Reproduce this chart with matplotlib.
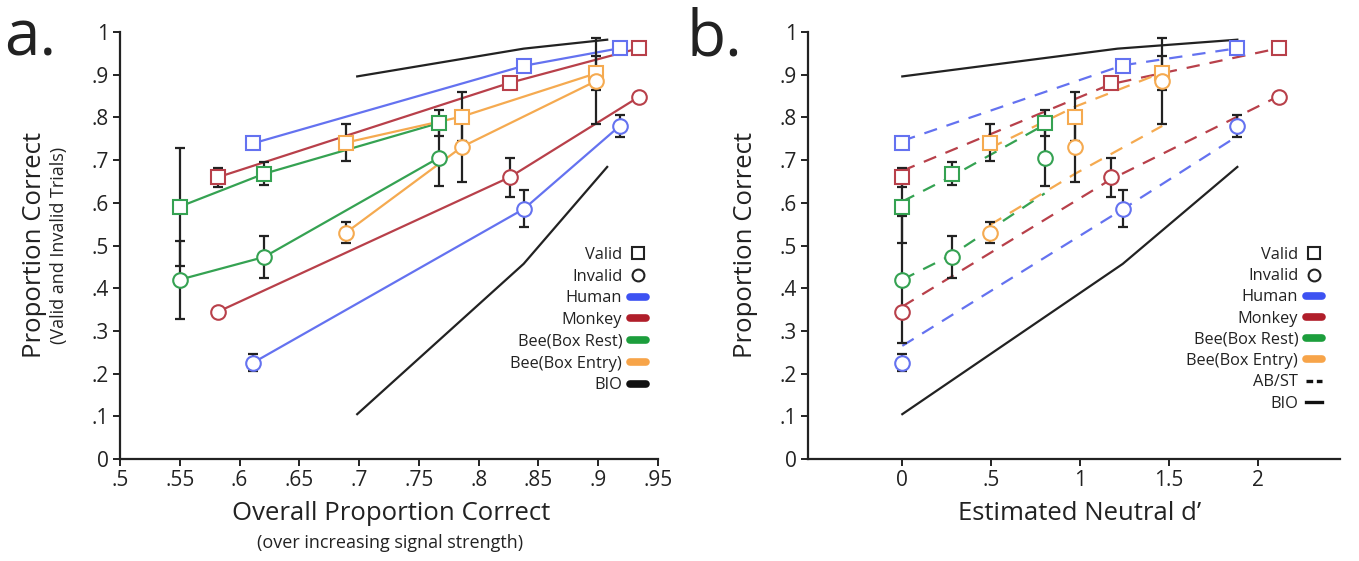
import matplotlib
matplotlib.use("Agg")
import matplotlib.pyplot as plt
from matplotlib.lines import Line2D

plt.rcParams['font.family'] = ['Open Sans', 'DejaVu Sans']

# ---------------- data ----------------
# panel a x: overall proportion correct
human_xa = [0.611, 0.838, 0.918]
monkey_xa = [0.582, 0.826, 0.934]
rest_xa = [0.550, 0.6205, 0.767]
entry_xa = [0.689, 0.786, 0.898]

# panel b x: estimated neutral d'
human_xb = [0.0, 1.239, 1.883]
monkey_xb = [0.0, 1.173, 2.117]
rest_xb = [0.0, 0.278, 0.800]
entry_xb = [0.492, 0.971, 1.461]

# proportion correct
human_valid = [0.739, 0.921, 0.962]
human_invalid = [0.225, 0.586, 0.780]
monkey_valid = [0.660, 0.881, 0.962]
monkey_invalid = [0.345, 0.660, 0.848]
rest_valid = [0.591, 0.668, 0.787]
rest_invalid = [0.420, 0.473, 0.706]
entry_valid = [0.741, 0.802, 0.903]
entry_invalid = [0.530, 0.731, 0.885]

# error bars (half widths)
human_valid_err = [0.0, 0.008, 0.0]
human_invalid_err = [0.020, 0.043, 0.025]
monkey_valid_err = [0.022, 0.0, 0.0]
monkey_invalid_err = [0.0, 0.046, 0.008]
rest_valid_err_a = [0.138, 0.027, 0.031]
rest_invalid_err_a = [0.091, 0.049, 0.067]
rest_valid_err_b = [0.085, 0.027, 0.031]
rest_invalid_err_b = [0.148, 0.049, 0.067]
entry_valid_err = [0.044, 0.057, 0.040]
entry_invalid_err = [0.024, 0.083, 0.100]

# AB/ST model fits (panel b)
human_fit_valid = [0.745, 0.922, 0.962]
human_fit_invalid = [0.265, 0.585, 0.756]
monkey_fit_valid = [0.675, 0.878, 0.962]
monkey_fit_invalid = [0.357, 0.655, 0.850]
rest_fit_valid = [0.603, 0.662, 0.783]
rest_fit_invalid = [0.420, 0.478, 0.622]
entry_fit_valid = [0.728, 0.825, 0.905]
entry_fit_invalid = [0.548, 0.668, 0.780]

# BIO (ideal observer)
bio_xa = [0.6984, 0.8376, 0.9075]
bio_xb = [0.0, 1.21, 1.883]
bio_xb_low = [0.0, 1.239, 1.883]
bio_valid = [0.896, 0.961, 0.982]
bio_invalid = [0.105, 0.457, 0.684]

xticks_a = [0.5, 0.55, 0.6, 0.65, 0.7, 0.75, 0.8, 0.85, 0.9, 0.95]
xticklabels_a = ['.5', '.55', '.6', '.65', '.7', '.75', '.8', '.85', '.9', '.95']
xticks_b = [0, 0.5, 1, 1.5, 2]
xticklabels_b = ['0', '.5', '1', '1.5', '2']
yticks = [0, 0.1, 0.2, 0.3, 0.4, 0.5, 0.6, 0.7, 0.8, 0.9, 1.0]
yticklabels = ['0', '.1', '.2', '.3', '.4', '.5', '.6', '.7', '.8', '.9', '1']

species = ['Human', 'Monkey', 'Bee(Box Rest)', 'Bee(Box Entry)']
line_colors = ['#6472f0', '#b8404a', '#35a252', '#f5aa50']
chip_colors = ['#3d52f2', '#b01e2a', '#1c9e3c', '#f7a449']

W, H = 1359, 561
fig = plt.figure(figsize=(W / 100, H / 100), dpi=100)

def px_axes(left, right, top, bottom):
    return fig.add_axes([left / W, 1 - bottom / H, (right - left) / W, (bottom - top) / H])

ax_a = px_axes(120, 658, 32, 459)
ax_b = px_axes(808, 1340, 32, 459)

def style(ax):
    for s in ['top', 'right']:
        ax.spines[s].set_visible(False)
    for s in ['left', 'bottom']:
        ax.spines[s].set_linewidth(1.6)
        ax.spines[s].set_color('#222222')
    ax.tick_params(direction='out', length=5, width=1.4, labelsize=15, colors='#222222', pad=3)
    ax.set_ylim(0, 1)
    ax.set_yticks(yticks)
    ax.set_yticklabels(yticklabels)

style(ax_a)
style(ax_b)
ax_a.set_xlim(0.5, 0.95)
ax_a.set_xticks(xticks_a)
ax_a.set_xticklabels(xticklabels_a)
ax_b.set_xlim(-0.53, 2.46)
ax_b.set_xticks(xticks_b)
ax_b.set_xticklabels(xticklabels_b)

xa_all = [human_xa, monkey_xa, rest_xa, entry_xa]
xb_all = [human_xb, monkey_xb, rest_xb, entry_xb]
valid_all = [human_valid, monkey_valid, rest_valid, entry_valid]
invalid_all = [human_invalid, monkey_invalid, rest_invalid, entry_invalid]
verr_a = [human_valid_err, monkey_valid_err, rest_valid_err_a, entry_valid_err]
ierr_a = [human_invalid_err, monkey_invalid_err, rest_invalid_err_a, entry_invalid_err]
verr_b = [human_valid_err, monkey_valid_err, rest_valid_err_b, entry_valid_err]
ierr_b = [human_invalid_err, monkey_invalid_err, rest_invalid_err_b, entry_invalid_err]
fitv_all = [human_fit_valid, monkey_fit_valid, rest_fit_valid, entry_fit_valid]
fiti_all = [human_fit_invalid, monkey_fit_invalid, rest_fit_invalid, entry_fit_invalid]

ms = 9.5
mew = 1.5
eb_kw = dict(fmt='none', ecolor='#222222', elinewidth=1.6, capsize=3.5, capthick=1.6, zorder=3)

# ---- panel a ----
ax_a.plot(bio_xa, bio_valid, color='#222222', lw=1.6, zorder=2)
ax_a.plot(bio_xa, bio_invalid, color='#222222', lw=1.6, zorder=2)
for i in range(4):
    c = line_colors[i]
    ax_a.plot(xa_all[i], valid_all[i], color=c, lw=1.6, zorder=2)
    ax_a.plot(xa_all[i], invalid_all[i], color=c, lw=1.6, zorder=2)
    ax_a.errorbar(xa_all[i], valid_all[i], yerr=verr_a[i], **eb_kw)
    ax_a.errorbar(xa_all[i], invalid_all[i], yerr=ierr_a[i], **eb_kw)
    ax_a.plot(xa_all[i], valid_all[i], ls='none', marker='s', ms=ms, mfc='white', mec=c, mew=mew, zorder=4)
    ax_a.plot(xa_all[i], invalid_all[i], ls='none', marker='o', ms=ms + 1, mfc='white', mec=c, mew=mew, zorder=4)

# ---- panel b ----
ax_b.plot(bio_xb, bio_valid, color='#222222', lw=1.6, zorder=2)
ax_b.plot(bio_xb_low, bio_invalid, color='#222222', lw=1.6, zorder=2)
for i in range(4):
    c = line_colors[i]
    ax_b.plot(xb_all[i], fitv_all[i], color=c, lw=1.6, ls=(0, (6, 4.5)), zorder=2)
    ax_b.plot(xb_all[i], fiti_all[i], color=c, lw=1.6, ls=(0, (6, 4.5)), zorder=2)
    ax_b.errorbar(xb_all[i], valid_all[i], yerr=verr_b[i], **eb_kw)
    ax_b.errorbar(xb_all[i], invalid_all[i], yerr=ierr_b[i], **eb_kw)
    ax_b.plot(xb_all[i], valid_all[i], ls='none', marker='s', ms=ms, mfc='white', mec=c, mew=mew, zorder=4)
    ax_b.plot(xb_all[i], invalid_all[i], ls='none', marker='o', ms=ms + 1, mfc='white', mec=c, mew=mew, zorder=4)

# ---- legends ----
def legend_handles(panel_b):
    hs = [Line2D([], [], ls='none', marker='s', ms=8.5, mfc='white', mec='#222222', mew=1.5),
          Line2D([], [], ls='none', marker='o', ms=8.5, mfc='white', mec='#222222', mew=1.5)]
    labels = ['Valid', 'Invalid']
    for c, s in zip(chip_colors, species):
        hs.append(Line2D([], [], color=c, lw=5.5, solid_capstyle='round'))
        labels.append(s)
    if panel_b:
        hs.append(Line2D([], [], color='#111111', lw=2.4, ls=(0, (2.0, 1.1))))
        labels.append('AB/ST')
        hs.append(Line2D([], [], color='#111111', lw=2.4))
        labels.append('BIO')
    else:
        hs.append(Line2D([], [], color='#111111', lw=5.5, solid_capstyle='round'))
        labels.append('BIO')
    return hs, labels

for ax, pb, xr, sp in [(ax_a, False, 646, 0.35), (ax_b, True, 1322, 0.32)]:
    hs, labels = legend_handles(pb)
    leg = ax.legend(hs, labels, loc='upper right', bbox_to_anchor=(xr / W, 1 - 247 / H),
                    bbox_transform=fig.transFigure, frameon=False, markerfirst=False,
                    handlelength=0.95, handletextpad=0.5, labelspacing=sp,
                    fontsize=11.8, borderpad=0, borderaxespad=0)
    for t in leg.get_texts():
        t.set_color('#222222')

# ---- labels ----
fig.text(4 / W, 1 - 56 / H, 'a.', fontsize=46, va='baseline', ha='left', color='#222222')
fig.text(686 / W, 1 - 56 / H, 'b.', fontsize=46, va='baseline', ha='left', color='#222222')

fig.text(35 / W, 1 - 245 / H, 'Proportion Correct', rotation=90, fontsize=18.5,
         ha='center', va='center', color='#222222')
fig.text(59 / W, 1 - 245 / H, '(Valid and Invalid Trials)', rotation=90, fontsize=13,
         ha='center', va='center', color='#222222')
fig.text(746 / W, 1 - 245 / H, 'Proportion Correct', rotation=90, fontsize=18.5,
         ha='center', va='center', color='#222222')

fig.text(391 / W, 1 - 514 / H, 'Overall Proportion Correct', fontsize=18.5,
         ha='center', va='center', color='#222222')
fig.text(390 / W, 1 - 543 / H, '(over increasing signal strength)', fontsize=13,
         ha='center', va='center', color='#222222')
fig.text(1080 / W, 1 - 514 / H, 'Estimated Neutral d\u2019', fontsize=18.5,
         ha='center', va='center', color='#222222')

fig.savefig('out.png', dpi=100)
